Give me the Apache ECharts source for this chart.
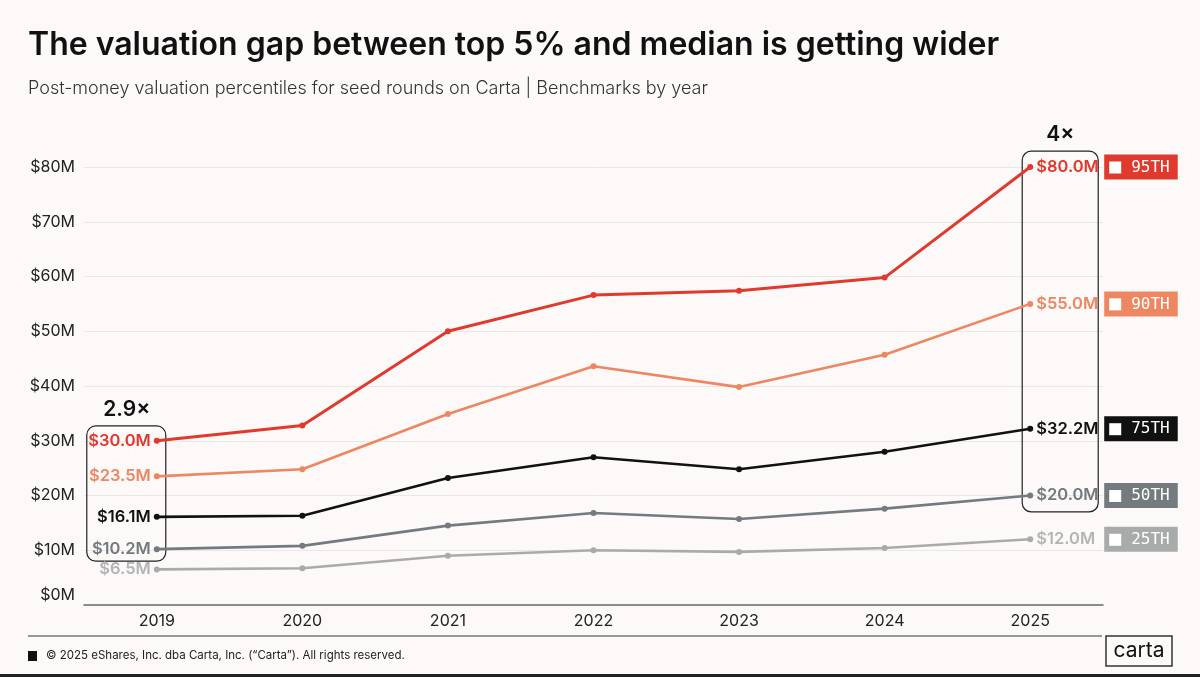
<!DOCTYPE html>
<html>
<head>
<meta charset="utf-8">
<script src="https://cdn.jsdelivr.net/npm/echarts@6/dist/echarts.min.js"></script>
<style>
html,body{margin:0;padding:0;background:#fcf9f8;}
#c{width:1200px;height:677px;}
</style>
</head>
<body>
<div id="c"></div>
<script>
const years = ['2019','2020','2021','2022','2023','2024','2025'];
const p95 = [30.0, 32.8, 50.0, 56.6, 57.4, 59.8, 80.0];
const p90 = [23.5, 24.8, 34.9, 43.6, 39.8, 45.7, 55.0];
const p75 = [16.1, 16.3, 23.2, 27.0, 24.8, 28.0, 32.2];
const p50 = [10.2, 10.8, 14.5, 16.8, 15.7, 17.6, 20.0];
const p25 = [6.5, 6.7, 9.0, 10.0, 9.7, 10.4, 12.0];
const seriesNames = ['95TH','90TH','75TH','50TH','25TH'];
const seriesColors = ['#e03a2e','#ec8762','#111111','#737b7e','#a9abab'];
const labelColors = ['#e03a2e','#ec8762','#111111','#737b7e','#b3b5b5'];
const multiplierLeft = '2.9×';
const multiplierRight = '4×';

const FONT = 'Inter, "Noto Sans", sans-serif';
const allData = [p95,p90,p75,p50,p25];

function fmt(v){ return '$' + v.toFixed(1) + 'M'; }

const series = allData.map((arr, i) => ({
  name: seriesNames[i],
  type: 'line',
  data: arr.map((v, j) => {
    if (j === 0) return {value: v, label: {show: true, position: 'left', distance: 3}};
    if (j === arr.length - 1) return {value: v, label: {show: true, position: 'right', distance: 3}};
    return v;
  }),
  symbol: 'circle',
  symbolSize: 6,
  lineStyle: {color: seriesColors[i], width: i === 0 ? 3 : 2.6},
  itemStyle: {color: seriesColors[i]},
  label: {
    show: false,
    color: labelColors[i],
    fontFamily: FONT,
    fontWeight: 600,
    fontSize: 16.5,
    formatter: p => fmt(p.value)
  },
  endLabel: {
    show: true,
    distance: 74,
    backgroundColor: seriesColors[i],
    padding: [5, 8, 4, 5],
    formatter: () => '{sq|}{t|' + seriesNames[i] + '}',
    rich: {
      sq: {width: 12, height: 12, backgroundColor: '#ffffff'},
      t: {color: '#ffffff', fontFamily: '"DejaVu Sans Mono", monospace', fontSize: 16, padding: [0, 0, 0, 10], lineHeight: 16}
    }
  },
  z: 10 - i
}));

const chart = echarts.init(document.getElementById('c'));
const option = {
  backgroundColor: '#fcf9f8',
  animation: false,
  grid: {left: 84, right: 97, top: 167, bottom: 72},
  xAxis: {
    type: 'category',
    data: years,
    boundaryGap: true,
    axisTick: {show: false},
    axisLine: {lineStyle: {color: '#6a6a6a', width: 1.5}},
    axisLabel: {color: '#222', fontFamily: FONT, fontSize: 16, margin: 8}
  },
  yAxis: {
    type: 'value',
    min: 0, max: 80, interval: 10,
    axisLine: {show: false},
    axisTick: {show: false},
    splitLine: {lineStyle: {color: '#ece7e5', width: 1}},
    axisLabel: {
      color: '#222', fontFamily: FONT, fontSize: 16, margin: 9,
      formatter: v => v === 0 ? '{z|$0M}' : '$' + v + 'M',
      rich: {z: {color: '#222', fontFamily: FONT, fontSize: 16, padding: [0, 0, 20, 0]}}
    }
  },
  series: series,
  graphic: []
};
chart.setOption(option);

// annotation boxes, positioned via the chart's scales
const a1 = chart.convertToPixel({gridIndex: 0}, ['2019', 32.7]);
const b1 = chart.convertToPixel({gridIndex: 0}, ['2019', 8.0]);
const a2 = chart.convertToPixel({gridIndex: 0}, ['2025', 82.9]);
const b2 = chart.convertToPixel({gridIndex: 0}, ['2025', 17.0]);

chart.setOption({
  graphic: [
    {type: 'text', left: 28, top: 29, style: {text: 'The valuation gap between top 5% and median is getting wider', fill: '#111', font: '600 32px ' + FONT}},
    {type: 'text', left: 28, top: 80, style: {text: 'Post-money valuation percentiles for seed rounds on Carta | Benchmarks by year', fill: '#333', font: '300 18px ' + FONT}},
    {type: 'rect', shape: {x: a1[0] - 70, y: a1[1], width: 79, height: b1[1] - a1[1], r: 9}, style: {fill: 'none', stroke: '#222', lineWidth: 1.2}, z: 1},
    {type: 'rect', shape: {x: a2[0] - 8, y: a2[1], width: 76, height: b2[1] - a2[1], r: 9}, style: {fill: 'none', stroke: '#222', lineWidth: 1.2}, z: 1},
    {type: 'text', x: a1[0] - 30, y: a1[1] - 16, style: {text: multiplierLeft, fill: '#111', font: '600 21px ' + FONT, textAlign: 'center', textVerticalAlign: 'middle'}},
    {type: 'text', x: a2[0] + 30, y: a2[1] - 16, style: {text: multiplierRight, fill: '#111', font: '600 21px ' + FONT, textAlign: 'center', textVerticalAlign: 'middle'}},
    {type: 'line', shape: {x1: 28, y1: 636, x2: 1102, y2: 636}, style: {stroke: '#777', lineWidth: 1.5}},
    {type: 'rect', shape: {x: 28, y: 651, width: 9, height: 10}, style: {fill: '#111'}},
    {type: 'text', left: 46, top: 650, style: {text: '© 2025 eShares, Inc. dba Carta, Inc. (“Carta”). All rights reserved.', fill: '#222', font: '400 11.5px ' + FONT}},
    {type: 'rect', shape: {x: 1106, y: 636, width: 66, height: 30}, style: {fill: '#fcf9f8', stroke: '#333', lineWidth: 1.5}},
    {type: 'text', x: 1139, y: 651, style: {text: 'carta', fill: '#111', font: '400 21px ' + FONT, textAlign: 'center', textVerticalAlign: 'middle'}},
    {type: 'rect', shape: {x: 0, y: 674, width: 1200, height: 3}, style: {fill: '#222'}}
  ]
});
</script>
</body>
</html>
